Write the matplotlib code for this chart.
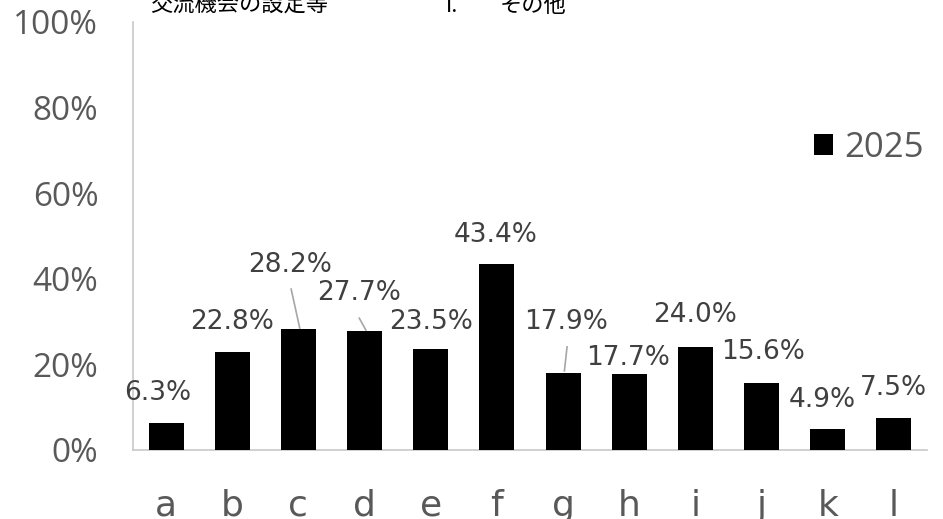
import numpy as np
import matplotlib.pyplot as plt
from matplotlib.ticker import FuncFormatter

categories = ['a', 'b', 'c', 'd', 'e', 'f', 'g', 'h', 'i', 'j', 'k', 'l']
values_2025 = [6.3, 22.8, 28.2, 27.7, 23.5, 43.4, 17.9, 17.7, 24.0, 15.6, 4.9, 7.5]
series_name = '2025'
y_ticks = [0, 20, 40, 60, 80, 100]

# label placement: x offset (in categories) and y position (in %)
label_dx = [-0.12, 0.0, -0.12, -0.09, 0.0, -0.02, 0.05, -0.02, 0.0, 0.02, -0.09, 0.0]
label_y = [13.3, 29.9, 43.2, 36.7, 29.9, 50.2, 29.9, 21.5, 31.5, 22.9, 11.7, 14.5]
# leader lines: category -> (dx0, y0, dx1, y1)
leaders = {2: (-0.11, 37.6, 0.02, 28.5),
           3: (-0.08, 30.8, 0.02, 28.0),
           6: (0.06, 24.1, 0.02, 18.5)}

plt.rcParams['font.family'] = ['DejaVu Sans']

fig = plt.figure(figsize=(9.43, 5.19), dpi=100)
ax = fig.add_axes([133 / 943, 1 - 450 / 519, (927 - 133) / 943, (450 - 22) / 519])

x = np.arange(len(categories))
bars = ax.bar(x, values_2025, width=0.53, color='black', label=series_name, zorder=3)

ax.set_xlim(-0.5, len(categories) - 0.5)
ax.set_ylim(0, 100)
ax.set_yticks(y_ticks)
ax.yaxis.set_major_formatter(FuncFormatter(lambda v, _: f'{v:.0f}%'))
ax.set_xticks(x)
ax.set_xticklabels(categories)

for s in ['top', 'right']:
    ax.spines[s].set_visible(False)
for s in ['left', 'bottom']:
    ax.spines[s].set_color('#c8c8c8')
    ax.spines[s].set_linewidth(1.2)

ax.tick_params(axis='both', length=0)
ax.tick_params(axis='y', pad=25, labelcolor='#595959')
ax.tick_params(axis='x', pad=28, labelcolor='#595959', labelsize=26)
for t in ax.get_yticklabels():
    t.set_fontfamily('Open Sans')
    t.set_fontsize(24)

# value labels
for i, v in enumerate(values_2025):
    ax.text(x[i] + label_dx[i], label_y[i], f'{v:.1f}%', ha='center', va='center',
            fontsize=19, color='#404040', zorder=4)
    if i in leaders:
        dx0, y0, dx1, y1 = leaders[i]
        ax.plot([x[i] + dx0, x[i] + dx1], [y0, y1], color='#a6a6a6', lw=1.2, zorder=2)

leg = fig.legend(handles=[bars], labels=[series_name], loc='center left',
                 bbox_to_anchor=(783 / 943, 1 - 148 / 519), frameon=False,
                 handlelength=0.55, handleheight=0.55, handletextpad=0.3,
                 prop={'family': 'Open Sans', 'size': 25})
for t in leg.get_texts():
    t.set_color('#595959')

# header text running off the top edge
jp = ['Noto Sans CJK JP', 'DejaVu Sans']
fig.text(150 / 943, 1 - 5 / 519, '交流機会の設定等\'', fontsize=16, family=jp,
         color='black', va='center', ha='left')
fig.text(445 / 943, 1 - 5 / 519, 'i.', fontsize=16, family=jp,
         color='black', va='center', ha='left')
fig.text(500 / 943, 1 - 5 / 519, 'その他', fontsize=16, family=jp,
         color='black', va='center', ha='left')

fig.savefig('out.png', dpi=100)
